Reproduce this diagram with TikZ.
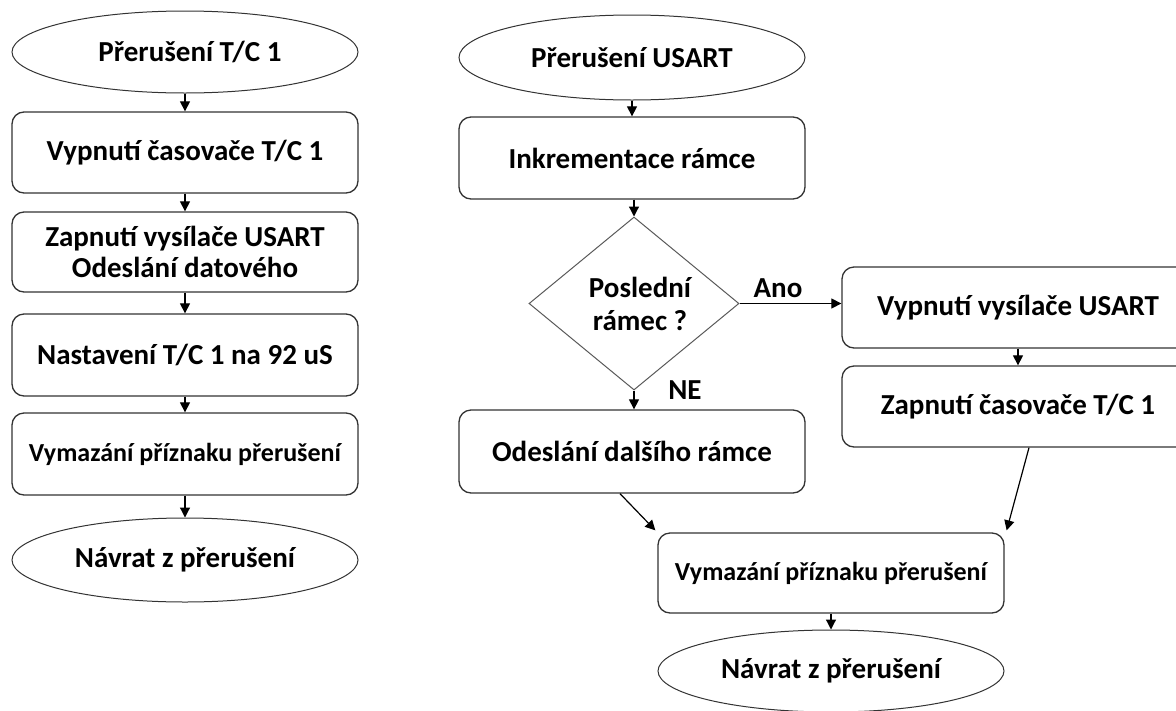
\documentclass[tikz,border=0pt]{standalone}
\usepackage{fontspec}
\setmainfont{Carlito}
\usetikzlibrary{shapes.geometric,arrows.meta}
\begin{document}
\begin{tikzpicture}[x=1pt,y=-1pt,
  every node/.style={font=\fontsize{29}{31}\selectfont\bfseries, align=center, inner sep=0pt},
  proc/.style={draw=black!80, line width=1.3pt, rounded corners=12pt, minimum width=346pt, minimum height=81pt},
  term/.style={draw=black!80, line width=1pt, ellipse, minimum width=346pt, minimum height=82pt, font=\fontsize{29}{31}\selectfont\bfseries},
  dec/.style={draw=black!65, line width=1pt, diamond, minimum width=210pt, minimum height=173pt, font=\fontsize{29}{33}\selectfont\bfseries},
  small/.style={font=\fontsize{26}{31}\selectfont\bfseries},
  arr/.style={-{Triangle[length=10pt,width=10pt]}, line width=1.2pt},
  lbl/.style={font=\fontsize{29}{31}\selectfont\bfseries}
]
\useasboundingbox (0,0) rectangle (1176,710);
% left column
\node[term] (e1) at (185,52) {\hspace*{10pt}Přerušení T/C 1};
\node[proc] (b1) at (185,152.5) {Vypnutí časovače T/C 1};
\node[proc, minimum height=80pt] (b2) at (185,252) {Zapnutí vysílače USART\\Odeslání datového};
\node[proc, minimum height=82pt] (b3) at (185,355) {Nastavení T/C 1 na 92 uS};
\node[proc, small, minimum height=82pt] (b4) at (185,454) {Vymazání příznaku přerušení};
\node[term, minimum height=84pt] (e2) at (185,560) {Návrat z přerušení};
\draw[arr] (e1.south) -- (b1.north);
\draw[arr] (b1.south) -- (b2.north);
\draw[arr] (b2.south) -- (b3.north);
\draw[arr] (b3.south) -- (b4.north);
\draw[arr] (b4.south) -- (e2.north);
% right part
\node[term, minimum height=85pt] (e3) at (632,57.5) {Přerušení USART};
\node[proc, minimum height=82pt] (b5) at (632,158) {Inkrementace rámce};
\node[dec] (d) at (634,303.5) {\hspace*{12pt}Poslední\\\hspace*{12pt}rámec ?};
\node[proc, minimum height=83pt] (b6) at (632,451.5) {Odeslání dalšího rámce};
\node[proc, minimum width=352pt] (b7) at (1018,307.5) {Vypnutí vysílače USART};
\node[proc, minimum width=352pt] (b8) at (1018,406.5) {Zapnutí časovače T/C 1};
\node[proc, small, minimum height=80pt] (b9) at (831,573) {Vymazání příznaku přerušení};
\node[term, minimum height=82pt] (e4) at (831,671) {Návrat z přerušení};
\node[lbl] (ano) at (778,288) {Ano};
\node[lbl] (ne) at (685,390) {NE};
\draw[arr] (e3.south) -- (b5.north -| e3.south);
\draw[arr] (b5.south -| d.north) -- (d.north);
\draw[arr] (d.east) -- (d.east -| b7.west);
\draw[arr] (d.south) -- (b6.north -| d.south);
\draw[arr] (b7.south) -- (b8.north);
\draw[arr] ([xshift=-12pt]b6.south) -- ([xshift=-2pt,yshift=2pt]b9.north west);
\draw[arr] ([xshift=11pt]b8.south) -- ([xshift=2pt,yshift=2pt]b9.north east);
\draw[arr] (b9.south) -- (e4.north);
\end{tikzpicture}
\end{document}
